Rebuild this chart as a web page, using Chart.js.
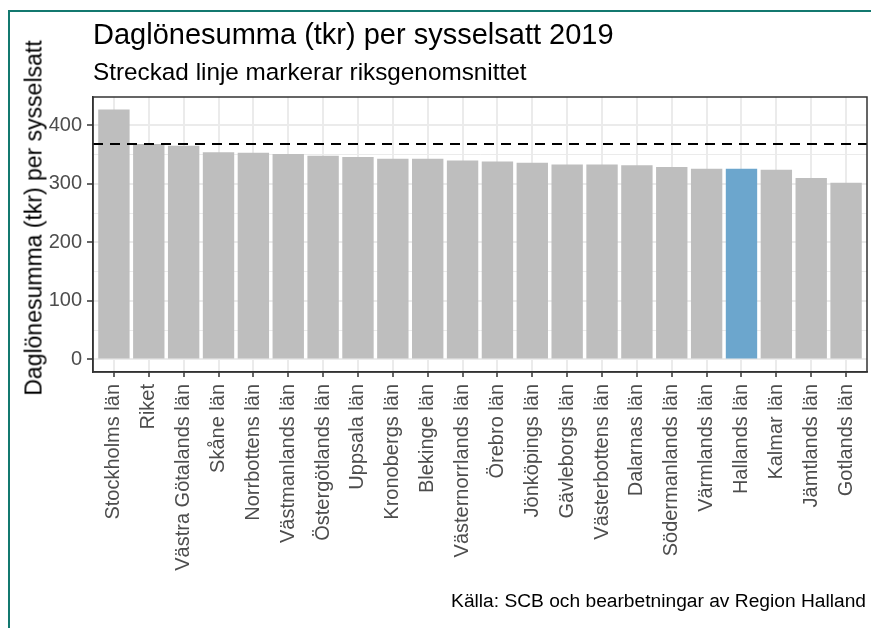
<!DOCTYPE html>
<html>
<head>
<meta charset="utf-8">
<script src="https://cdn.jsdelivr.net/npm/chart.js@4/dist/chart.umd.min.js"></script>
<style>
  html, body { margin: 0; padding: 0; background: #fff; }
  body { width: 871px; height: 628px; position: relative; overflow: hidden; font-family: "Liberation Sans", Arial, sans-serif; }
  #frame { position: absolute; left: 8px; top: 10px; width: 900px; height: 700px; border-left: 2px solid #13786f; border-top: 2px solid #13786f; }
  #wrap { position: absolute; left: 0; top: 0; width: 871px; height: 628px; }
  .txt { position: absolute; white-space: nowrap; line-height: 1; color: #000; }
  #title { left: 93px; top: 20px; font-size: 29px; }
  #subtitle { left: 93px; top: 60px; font-size: 24.3px; }
  #caption { right: 5px; top: 591px; font-size: 19.2px; }
  #ytitle { left: 34px; top: 218px; font-size: 23px; transform: translate(-50%, -50%) rotate(-90deg); }
</style>
</head>
<body>
<div id="frame"></div>
<div id="wrap"><canvas id="myChart" width="871" height="628"></canvas></div>
<div class="txt" id="title">Daglönesumma (tkr) per sysselsatt 2019</div>
<div class="txt" id="subtitle">Streckad linje markerar riksgenomsnittet</div>
<div class="txt" id="ytitle">Daglönesumma (tkr) per sysselsatt</div>
<div class="txt" id="caption">Källa: SCB och bearbetningar av Region Halland</div>
<script>
// values (tkr per employed person)
const regions = ["Stockholms län", "Riket", "Västra Götalands län", "Skåne län", "Norrbottens län",
  "Västmanlands län", "Östergötlands län", "Uppsala län", "Kronobergs län", "Blekinge län",
  "Västernorrlands län", "Örebro län", "Jönköpings län", "Gävleborgs län", "Västerbottens län",
  "Dalarnas län", "Södermanlands län", "Värmlands län", "Hallands län", "Kalmar län",
  "Jämtlands län", "Gotlands län"];
const values = [427, 368, 365, 354, 353, 351, 348, 346, 343, 343, 340, 338, 336, 333, 333, 332, 329, 326, 326, 324, 310, 302];
const riketAvg = 368;
const highlight = "Hallands län";
const yTicks = [0, 50, 100, 150, 200, 250, 300, 350, 400];

const grey = '#bebebe';
const blue = '#6ca6cd';

// ggplot-like outer panel border
const panelBorder = {
  id: 'panelBorder',
  afterDatasetsDraw(chart) {
    const a = chart.chartArea;
    const c = chart.ctx;
    c.save();
    c.strokeStyle = '#333333';
    c.lineWidth = 1.5;
    c.strokeRect(a.left, a.top, a.right - a.left, a.bottom - a.top);
    c.restore();
  }
};

const barData = values.map((v, i) => ({ x: i, y: v }));
const lineData = [{ x: -0.6, y: riketAvg }, { x: regions.length - 0.4, y: riketAvg }];

const ctx = document.getElementById('myChart');
const myChart = new Chart(ctx, {
  type: 'bar',
  data: {
    datasets: [{
      type: 'line',
      data: lineData,
      borderColor: '#000',
      borderWidth: 2,
      borderDash: [10, 7],
      pointRadius: 0,
      fill: false,
      order: 0
    }, {
      type: 'bar',
      data: barData,
      backgroundColor: regions.map(r => r === highlight ? blue : grey),
      barPercentage: 0.9,
      categoryPercentage: 1.0,
      order: 1
    }]
  },
  options: {
    responsive: false,
    animation: false,
    layout: { padding: { left: 0, top: 97, right: 4, bottom: 56 } },
    plugins: { legend: { display: false }, tooltip: { enabled: false } },
    scales: {
      x: {
        type: 'linear',
        offset: false,
        min: -0.6,
        max: regions.length - 0.4,
        afterBuildTicks: s => { s.ticks = regions.map((_, i) => ({ value: i })); },
        afterFit: s => { s.height = 200; s.paddingLeft = 0; s.paddingRight = 0; },
        ticks: {
          autoSkip: false,
          minRotation: 90,
          maxRotation: 90,
          padding: 7,
          color: '#4d4d4d',
          font: { family: 'Liberation Sans', size: 20 },
          callback: v => regions[v]
        },
        grid: { offset: false, color: '#ebebeb', lineWidth: 2, tickColor: '#333333', tickLength: 5, tickWidth: 1.5 },
        border: { display: true, color: '#333333', width: 1.5 }
      },
      y: {
        min: -21.4,
        max: 448.4,
        afterBuildTicks: s => { s.ticks = yTicks.map(v => ({ value: v })); },
        afterFit: s => { s.width = 93; s.paddingTop = 0; s.paddingBottom = 0; },
        ticks: {
          padding: 5,
          color: '#4d4d4d',
          font: { family: 'Liberation Sans', size: 20 },
          callback: v => (v % 100 === 0 ? v : '')
        },
        grid: {
          color: '#ebebeb',
          lineWidth: c => (c.tick && c.tick.value % 100 === 0 ? 2 : 1),
          tickColor: c => (c.tick && c.tick.value % 100 === 0 ? '#333333' : 'rgba(0,0,0,0)'),
          tickLength: 6,
          tickWidth: 1.5
        },
        border: { display: true, color: '#333333', width: 1.5 }
      }
    }
  },
  plugins: [panelBorder]
});
</script>
</body>
</html>
